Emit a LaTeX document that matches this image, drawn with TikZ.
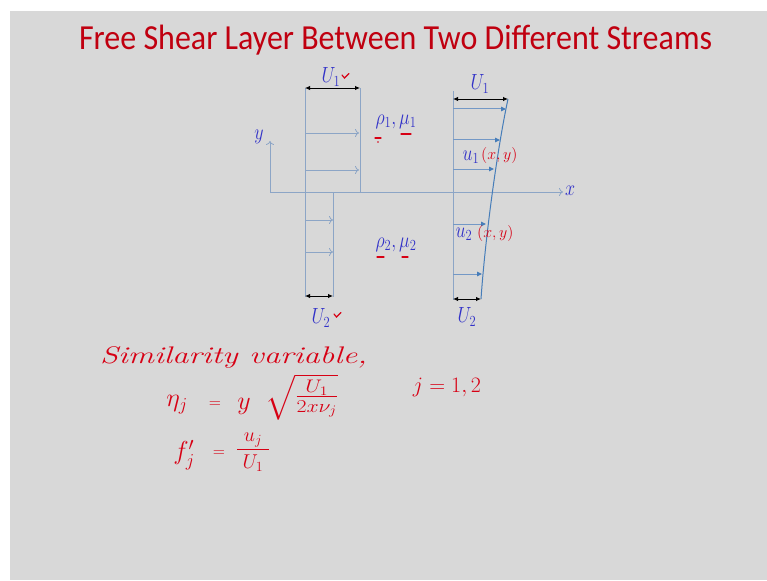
\RequirePackage{fix-cm}
\documentclass[tikz,border=0pt]{standalone}
\usepackage{amsmath}
\usepackage{fontspec}
\newfontfamily\titlefont{Carlito}
\usetikzlibrary{arrows.meta}
\definecolor{bgc}{RGB}{216,216,216}
\definecolor{titlered}{RGB}{192,0,16}
\definecolor{lblue}{RGB}{50,50,200}
\definecolor{pline}{RGB}{140,165,198}
\definecolor{parrow}{RGB}{70,125,185}
\definecolor{pline2}{RGB}{115,152,198}
\definecolor{hand}{RGB}{215,0,20}
\newcommand\vstretch[1]{\scalebox{1}[1.22]{#1}}
\begin{document}
\begin{tikzpicture}[x=1pt,y=-1pt,
  prof/.style={draw=pline, line width=0.8pt},
  vel/.style={pline, line width=0.8pt, -{To[length=4pt,width=8pt]}},
  vel2/.style={pline2, line width=1pt, -{Triangle[length=5pt,width=4.5pt,color=parrow,fill=parrow]}},
  dimarrow/.style={black, line width=0.9pt, {Latex[length=5pt,width=4.5pt]}-{Latex[length=5pt,width=4.5pt]}},
  lab/.style={text=lblue, inner sep=0pt, font=\fontsize{18}{22}\selectfont},
  hw/.style={text=hand, inner sep=0pt, font=\fontsize{26}{30}\selectfont},
  hweq/.style={text=hand, inner sep=0pt, font=\fontsize{16}{18}\selectfont},
  hwsmall/.style={text=hand, inner sep=0pt, font=\fontsize{16}{18}\selectfont},
  redmark/.style={draw=hand, line width=1.2pt, line cap=round}
]
\useasboundingbox (0,0) rectangle (767,580);
\fill[bgc] (10,11) rectangle (767,580);
\node[text=titlered, font=\titlefont\fontsize{32}{36}\selectfont, anchor=base, inner sep=0pt] (title) at (395.5,50) {\scalebox{1}[1.1]{Free Shear Layer Between Two Different Streams}};

% left profile
\coordinate (a1) at (305,88);
\coordinate (a2) at (360,88);
\coordinate (a3) at (360,192);
\coordinate (a4) at (333,192);
\coordinate (a5) at (333,297);
\coordinate (a6) at (305,297);
\draw[prof] (a1) -- (a6);
\draw[prof] (a2) -- (a3);
\draw[prof] (a4) -- (a5);
% axes
\coordinate (o) at (270,192);
\coordinate (yt) at (270,141);
\coordinate (xe) at (563,192);
\draw[vel] (o) -- (yt);
\draw[vel] (o) -- (xe);
% left velocity arrows
\coordinate (l1s) at (305,133); \coordinate (l1e) at (359,133);
\coordinate (l2s) at (305,170); \coordinate (l2e) at (359,170);
\coordinate (l3s) at (305,220); \coordinate (l3e) at (333,220);
\coordinate (l4s) at (305,252); \coordinate (l4e) at (333,252);
\draw[vel] (l1s) -- (l1e);
\draw[vel] (l2s) -- (l2e);
\draw[vel] (l3s) -- (l3e);
\draw[vel] (l4s) -- (l4e);
\coordinate (d1s) at (305,88); \coordinate (d1e) at (360,88);
\coordinate (d2s) at (305,296); \coordinate (d2e) at (333,296);
\draw[dimarrow] (d1s) -- (d1e);
\draw[dimarrow] (d2s) -- (d2e);
\node[lab] (U1l) at (331,77) {\vstretch{$U_1$}};
\node[lab] (U2l) at (321,318) {\vstretch{$U_2$}};
\draw[redmark] (342,75) -- (344.5,78) -- (349,73.5);
\draw[redmark] (334,314) -- (336.5,317) -- (341,312.5);
\node[lab] (ylab) at (259,137) {\vstretch{$y$}};
\node[lab] (xlab) at (570,191) {\vstretch{$x$}};
\node[lab] (rm1) at (396,122) {\vstretch{$\rho_1,\mu_1$}};
\node[lab] (rm2) at (396,245) {\vstretch{$\rho_2,\mu_2$}};
\draw[redmark] (375,138) -- (381,138);
\fill[hand] (378,142) circle (0.8);
\draw[redmark] (401,134) -- (411,134);
\draw[redmark] (377,257) -- (384,257);
\draw[redmark] (402,257) -- (408,257);

% right profile
\coordinate (b1) at (453,91);
\coordinate (b2) at (453,300);
\draw[prof] (b1) -- (b2);
\coordinate (c1) at (508,99);
\coordinate (c2) at (481,299);
\draw[parrow, line width=1pt] (c1) .. controls (497,150) and (485,240) .. (c2);
\coordinate (r1s) at (453,109); \coordinate (r1e) at (506,109);
\coordinate (r2s) at (453,140); \coordinate (r2e) at (500,140);
\coordinate (r3s) at (453,169); \coordinate (r3e) at (494,169);
\coordinate (r4s) at (453,224); \coordinate (r4e) at (486,224);
\coordinate (r5s) at (453,274); \coordinate (r5e) at (482,274);
\draw[vel2] (r1s) -- (r1e);
\draw[vel2] (r2s) -- (r2e);
\draw[vel2] (r3s) -- (r3e);
\draw[vel2] (r4s) -- (r4e);
\draw[vel2] (r5s) -- (r5e);
\coordinate (e1s) at (453,99); \coordinate (e1e) at (508,99);
\coordinate (e2s) at (453,299); \coordinate (e2e) at (481,299);
\draw[dimarrow] (e1s) -- (e1e);
\draw[dimarrow] (e2s) -- (e2e);
\node[lab] (U1r) at (480,84) {\vstretch{$U_1$}};
\node[lab] (U2r) at (467,317) {\vstretch{$U_2$}};
\node[lab] (u1) at (471,157) {\vstretch{$u_1$}};
\node[hwsmall, anchor=west] (xy1) at (481,156) {$(x,y)$};
\node[lab] (u2) at (464,234) {\vstretch{$u_2$}};
\node[hwsmall, anchor=west] (xy2) at (477,233) {$(x,y)$};

% handwritten part
\node[text=hand, inner sep=0pt, anchor=base west, font=\fontsize{24}{28}\selectfont\itshape] (sim) at (100,363) {\scalebox{1.36}[1]{Similarity variable,}};
\node[hw] (eta) at (177,405) {$\eta_j$};
\node[hweq] (eq1) at (215,405) {$=$};
\node[hw] (yy) at (244,406) {$y$};
\node[hw, anchor=west] (rhs) at (265,397) {\scalebox{1.2}[1]{$\sqrt{\tfrac{U_1}{2x\nu_j}}$}};
\node[hw, font=\fontsize{22}{26}\selectfont] (jj) at (447,387) {$j= 1,2$};
\node[hw] (fj) at (184,455) {$f_j'$};
\node[hweq] (eq2) at (219,454) {$=$};
\node[hw, font=\fontsize{20}{24}\selectfont] (frac) at (253,452) {$\dfrac{\;u_j\;}{\;U_1\;}$};
\end{tikzpicture}
\end{document}
